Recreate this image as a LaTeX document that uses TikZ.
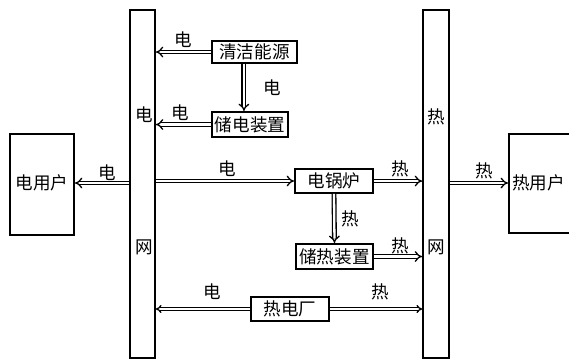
\documentclass[tikz,border=0pt]{standalone}
\usepackage{fontspec}
\usepackage{tikz}
\usetikzlibrary{positioning,calc,arrows.meta}
\newfontfamily\cjk{Noto Sans CJK SC}
\tikzset{
  box/.style={draw,line width=1.1pt,fill=white,inner sep=0pt,font=\cjk\fontsize{10}{12}\selectfont},
  bus/.style={draw,line width=1pt,fill=white,minimum width=0.5cm,minimum height=6.96cm,inner sep=0pt},
  flow/.style={double,line width=0.75pt,double distance=1.3pt,-{Implies}},
  chpflow/.style={flow,double distance=0.7pt},
  lbl/.style={font=\cjk\fontsize{10}{12}\selectfont,inner sep=1pt}
}
\begin{document}
\begin{tikzpicture}[x=0.02cm,y=-0.02cm]
\useasboundingbox (0,0) rectangle (569,360);
% grids
\node[bus] (ebus) at (142.5,184) {};
\node[bus,minimum width=0.52cm] (hbus) at (436,184) {};
\node[lbl] at (144,115) {电};
\node[lbl] at (144,247) {网};
\node[lbl] at (436,117) {热};
\node[lbl] at (436,247) {网};
% users
\node[box,minimum width=1.28cm,minimum height=2.02cm] (euser) at (42,184.5) {};
\node[lbl] at (42,183) {电用户};
\node[box,minimum width=1.4cm,minimum height=1.98cm,anchor=north west] (huser) at (508,133) {};
\node[lbl,anchor=west] at (510,183) {热用户};
% devices
\node[box,minimum width=1.7cm,minimum height=0.44cm] (clean) at (254.5,52) {清洁能源};
\node[box,minimum width=1.52cm,minimum height=0.5cm] (estore) at (250,124.5) {储电装置};
\node[box,minimum width=1.56cm,minimum height=0.48cm] (boiler) at (334,181) {电锅炉};
\node[box,minimum width=1.54cm,minimum height=0.5cm] (hstore) at (334.5,256.5) {储热装置};
\node[box,minimum width=1.56cm,minimum height=0.48cm] (chp) at (290,309) {热电厂};
% flows
\draw[flow] (clean.west) -- node[lbl,above=1pt,pos=0.5] {电} (clean.west -| ebus.east);
\draw[flow] ([xshift=-6]clean.south) -- node[lbl,right=10pt] {电} ([xshift=-6]clean.south |- estore.north);
\draw[flow] (estore.west) -- node[lbl,above=1pt,pos=0.55] {电} (estore.west -| ebus.east);
\draw[flow] (ebus.west |- 0,183) -- node[lbl,above=0pt,pos=0.4] {电} (euser.east |- 0,183);
\draw[flow] (ebus.east |- boiler.west) -- node[lbl,above=1pt,pos=0.52] {电} (boiler.west);
\draw[flow] (boiler.east) -- node[lbl,above=1pt,pos=0.55] {热} (boiler.east -| hbus.west);
\draw[flow] (boiler.south) -- node[lbl,right=3pt] {热} (hstore.north);
\draw[flow] (hstore.east) -- node[lbl,above=0pt,pos=0.55] {热} (hstore.east -| hbus.west);
\draw[chpflow] (chp.west) -- node[lbl,above=4pt,pos=0.4] {电} (chp.west -| ebus.east);
\draw[chpflow] (chp.east) -- node[lbl,above=4pt,pos=0.55] {热} (chp.east -| hbus.west);
\draw[flow] (hbus.east |- 0,183) -- node[lbl,above=1pt,pos=0.6] {热} (huser.west |- 0,183);
\end{tikzpicture}
\end{document}
